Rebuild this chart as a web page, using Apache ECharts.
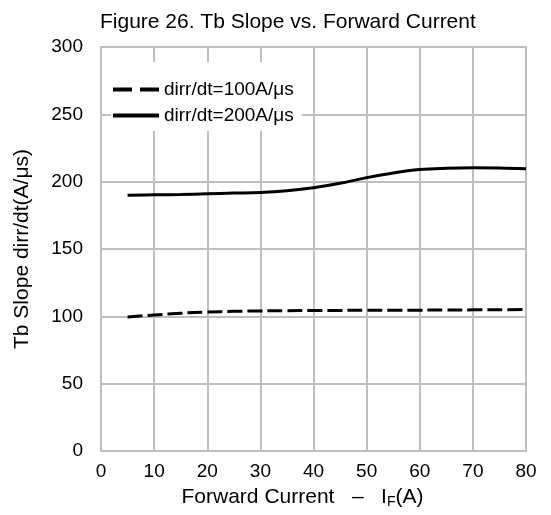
<!DOCTYPE html>
<html>
<head>
<meta charset="utf-8">
<script src="https://cdn.jsdelivr.net/npm/echarts@6/dist/echarts.min.js"></script>
<style>
  html, body { margin: 0; padding: 0; background: #fff; }
  #chart { width: 551px; height: 515px; }
</style>
</head>
<body>
<div id="chart"></div>
<script>
// Forward current (A) sample points
const currentA = [5, 10, 15, 20, 25, 30, 35, 40, 45, 50, 55, 60, 65, 70, 75, 80];
// Tb slope at dirr/dt = 100 A/µs
const slope100 = [99.5, 101, 102.3, 103.2, 103.7, 104, 104.2, 104.3, 104.4, 104.5, 104.6, 104.6, 104.7, 104.8, 104.9, 105];
// Tb slope at dirr/dt = 200 A/µs
const slope200 = [190, 190.2, 190.5, 191, 191.5, 192, 193.3, 195.5, 198.8, 203, 206.5, 209, 210, 210.4, 210.2, 209.5];

const seriesNames = ['dirr/dt=100A/μs', 'dirr/dt=200A/μs'];
const font = 'Arial, "Liberation Sans", sans-serif';
const gridGrey = '#bfbfbf';

const pairs = (xs, ys) => xs.map((x, i) => [x, ys[i]]);

const chart = echarts.init(document.getElementById('chart'), null, { renderer: 'canvas' });
chart.setOption({
  animation: false,
  backgroundColor: '#fff',
  title: {
    text: 'Figure 26. Tb Slope vs. Forward Current',
    left: 95,
    top: 7,
    textStyle: { fontFamily: font, fontSize: 21, fontWeight: 'normal', color: '#000' }
  },
  grid: { left: 101, right: 25, top: 47, bottom: 64 },
  legend: {
    orient: 'vertical',
    left: 111,
    top: 62,
    itemWidth: 46,
    itemHeight: 14,
    itemGap: 7,
    padding: [18, 8, 6, 0],
    backgroundColor: '#fff',
    data: [
      { name: seriesNames[0], lineStyle: { width: 4, type: [19, 8] } },
      { name: seriesNames[1], lineStyle: { width: 4, type: 'solid' } }
    ],
    itemStyle: { opacity: 0 },
    textStyle: { fontFamily: font, fontSize: 19, color: '#000' }
  },
  xAxis: {
    type: 'value',
    min: 0, max: 80, interval: 10,
    name: 'Forward Current   \u2013   I{sub|F}(A)',
    nameLocation: 'middle',
    nameGap: 34,
    nameTextStyle: {
      fontFamily: font, fontSize: 21, color: '#000',
      padding: [0, 22, 0, 0],
      rich: { sub: { fontFamily: font, fontSize: 14, color: '#000', verticalAlign: 'bottom', padding: [10, 0, 0, 0] } }
    },
    axisLine: { show: true, lineStyle: { color: gridGrey, width: 2 } },
    axisTick: { show: false },
    axisLabel: { fontFamily: font, fontSize: 19, color: '#000', margin: 11 },
    splitLine: { show: true, lineStyle: { color: gridGrey, width: 2 } }
  },
  yAxis: {
    type: 'value',
    min: 0, max: 300, interval: 50,
    name: 'Tb Slope dirr/dt(A/μs)',
    nameLocation: 'middle',
    nameGap: 68,
    nameTextStyle: { fontFamily: font, fontSize: 21, color: '#000' },
    axisLine: { show: true, lineStyle: { color: gridGrey, width: 2 } },
    axisTick: { show: false },
    axisLabel: { fontFamily: font, fontSize: 19, color: '#000', margin: 18 },
    splitLine: { show: true, lineStyle: { color: gridGrey, width: 2 } }
  },
  series: [
    {
      name: seriesNames[0],
      type: 'line',
      data: pairs(currentA, slope100),
      smooth: 0.4,
      symbol: 'none',
      lineStyle: { color: '#000', width: 3, type: [15, 5] },
      itemStyle: { color: '#000' }
    },
    {
      name: seriesNames[1],
      type: 'line',
      data: pairs(currentA, slope200),
      smooth: 0.4,
      symbol: 'none',
      lineStyle: { color: '#000', width: 3, type: 'solid' },
      itemStyle: { color: '#000' }
    }
  ],
  graphic: [
    // right and top edges of the plotting frame
    {
      type: 'rect',
      silent: true,
      z: 0,
      shape: { x: 101, y: 47, width: 425, height: 404 },
      style: { fill: 'none', stroke: gridGrey, lineWidth: 2 }
    }
  ]
});
</script>
</body>
</html>
